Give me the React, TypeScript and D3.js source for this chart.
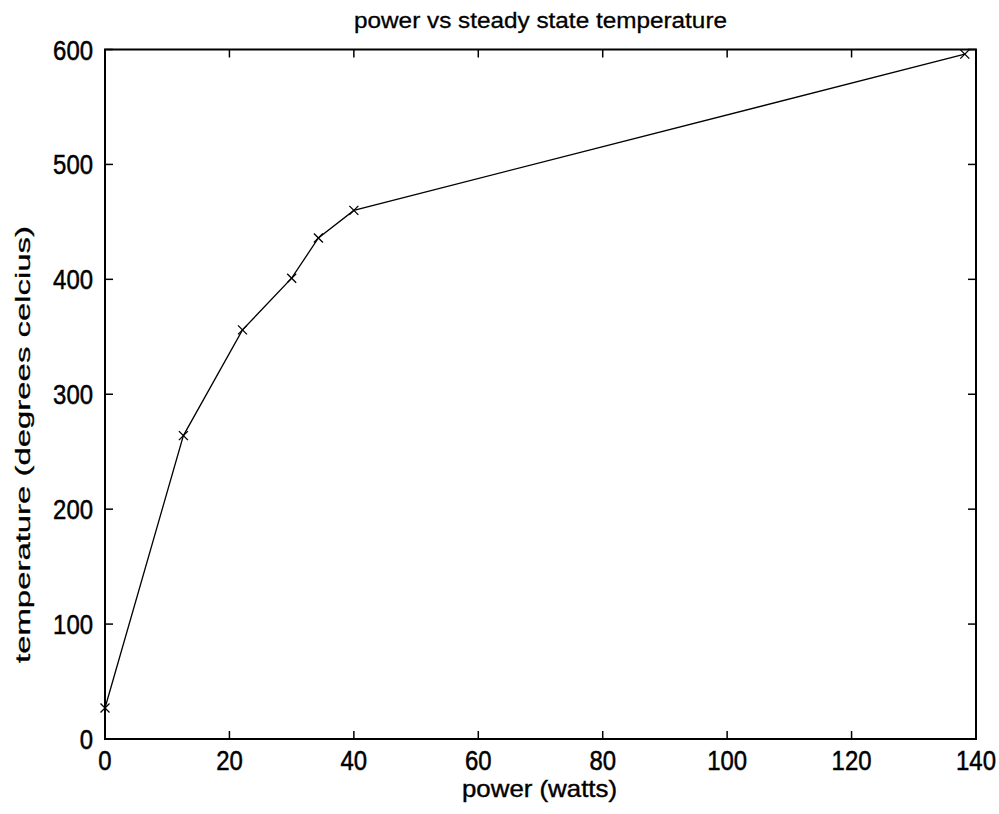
import React from "react";
import * as d3 from "d3";

const powerWatts = [0, 12.6, 22.1, 30.0, 34.3, 40.0, 138.2];
const temperatureC = [27, 264, 356, 401, 436, 460, 596];
const xTicks = [0, 20, 40, 60, 80, 100, 120, 140];
const yTicks = [0, 100, 200, 300, 400, 500, 600];
const titleText = "power vs steady state temperature";
const xLabel = "power (watts)";
const yLabel = "temperature (degrees celcius)";

const W = 999, H = 814;
const left = 105, right = 976, top = 49.5, bottom = 739;
const FONT = "'Liberation Sans', Arial, sans-serif";

export default function App() {
  const x = d3.scaleLinear().domain([0, 140]).range([left, right]);
  const y = d3.scaleLinear().domain([0, 600]).range([bottom, top]);
  const pts = powerWatts.map((p, i) => [p, temperatureC[i]] as [number, number]);
  const line = d3.line<[number, number]>().x(d => x(d[0])).y(d => y(d[1]))(pts) || "";
  const tl = 8;
  const m = 4.5;
  const digitW = 13.3;
  return (
    <svg width={W} height={H} style={{ position: "absolute", left: 0, top: 0, background: "#fff" }}>
      <rect x={0} y={0} width={W} height={H} fill="#fff" />
      <rect x={left} y={top} width={right - left} height={bottom - top} fill="none" stroke="#000" strokeWidth={2} />
      {xTicks.map(t => {
        const s = String(t);
        return (
          <g key={"x" + t}>
            <line x1={x(t)} x2={x(t)} y1={bottom} y2={bottom - tl} stroke="#000" strokeWidth={1.5} />
            <line x1={x(t)} x2={x(t)} y1={top} y2={top + tl} stroke="#000" strokeWidth={1.5} />
            <text x={x(t) - (s.length * digitW) / 2} y={770} textLength={s.length * digitW} lengthAdjust="spacingAndGlyphs"
              fontFamily={FONT} fontSize={27} fill="#000" stroke="#000" strokeWidth={0.5}>{s}</text>
          </g>
        );
      })}
      {yTicks.map(t => {
        const s = String(t);
        return (
          <g key={"y" + t}>
            <line x1={left} x2={left + tl} y1={y(t)} y2={y(t)} stroke="#000" strokeWidth={1.5} />
            <line x1={right} x2={right - tl} y1={y(t)} y2={y(t)} stroke="#000" strokeWidth={1.5} />
            <text x={93 - s.length * digitW} y={y(t) + 10} textLength={s.length * digitW} lengthAdjust="spacingAndGlyphs"
              fontFamily={FONT} fontSize={27} fill="#000" stroke="#000" strokeWidth={0.5}>{s}</text>
          </g>
        );
      })}
      <path d={line} fill="none" stroke="#000" strokeWidth={1.3} />
      {pts.map((d, i) => (
        <g key={"m" + i} stroke="#000" strokeWidth={1.3}>
          <line x1={x(d[0]) - m} x2={x(d[0]) + m} y1={y(d[1]) - m} y2={y(d[1]) + m} />
          <line x1={x(d[0]) - m} x2={x(d[0]) + m} y1={y(d[1]) + m} y2={y(d[1]) - m} />
        </g>
      ))}
      <text x={354} y={28} textLength={373} lengthAdjust="spacingAndGlyphs" fontFamily={FONT} fontSize={22}
        fill="#000" stroke="#000" strokeWidth={0.3}>{titleText}</text>
      <text x={462} y={797} textLength={155} lengthAdjust="spacingAndGlyphs" fontFamily={FONT} fontSize={24}
        fill="#000" stroke="#000" strokeWidth={0.4}>{xLabel}</text>
      <text transform={`translate(30,663) rotate(-90)`} textLength={437} lengthAdjust="spacingAndGlyphs"
        fontFamily={FONT} fontSize={21} fill="#000" stroke="#000" strokeWidth={0.3}>{yLabel}</text>
    </svg>
  );
}
